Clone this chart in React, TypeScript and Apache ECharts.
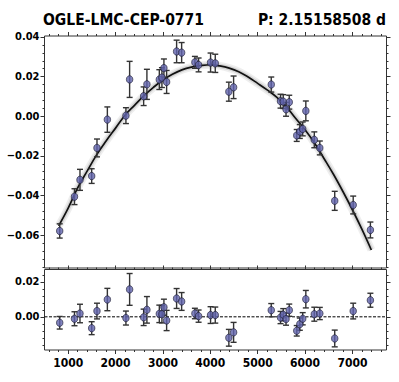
import React, { useEffect, useRef } from "react";
import * as echarts from "echarts";

const TITLE_LEFT = "OGLE-LMC-CEP-0771";
const TITLE_RIGHT = "P: 2.15158508 d";

const OBS_X = [821, 1133, 1249, 1496, 1608, 1827, 2219, 2297, 2593, 2662, 2924, 2979, 3021, 3078, 3289, 3395, 3675, 3753, 4006, 4105, 4392, 4492, 5287, 5483, 5540, 5599, 5667, 5825, 5890, 5951, 6017, 6196, 6312, 6627, 7017, 7380];
const OBS_Y = [-0.0579, -0.0406, -0.0321, -0.0302, -0.016, -0.0017, 0.0003, 0.0186, 0.0101, 0.0161, 0.0185, 0.0195, 0.0243, 0.0173, 0.0327, 0.0321, 0.0272, 0.0259, 0.0271, 0.0267, 0.0124, 0.0146, 0.016, 0.0076, 0.0074, 0.0035, 0.0071, -0.0097, -0.0077, -0.0064, 0.0027, -0.0119, -0.016, -0.0427, -0.0448, -0.0574];
const RES_Y = [-0.0034, -0.0011, 0.0019, -0.0065, 0.0033, 0.0099, -0.0007, 0.0157, -0.0003, 0.004, 0.0017, 0.0015, 0.0055, -0.0021, 0.0105, 0.0088, 0.0019, 0.0004, 0.001, 0.001, -0.012, -0.0089, 0.0038, -0.0004, 0.0012, -0.0013, 0.0038, -0.008, -0.0042, -0.0011, 0.0101, 0.0015, 0.0019, -0.0124, 0.0033, 0.0095];
const ERR = [0.0036, 0.004, 0.0053, 0.0037, 0.0045, 0.0064, 0.004, 0.0091, 0.0047, 0.0076, 0.005, 0.005, 0.0046, 0.0058, 0.0057, 0.0051, 0.003, 0.0035, 0.0048, 0.0046, 0.0048, 0.0057, 0.0038, 0.0035, 0.0035, 0.0035, 0.0035, 0.003, 0.0035, 0.0035, 0.005, 0.004, 0.0035, 0.0048, 0.0045, 0.004];

const CURVE_X = [800, 1000, 1200, 1400, 1600, 1800, 2000, 2200, 2400, 2600, 2800, 3000, 3200, 3400, 3600, 3800, 4000, 4200, 4400, 4600, 4800, 5000, 5200, 5400, 5600, 5800, 6000, 6200, 6400, 6600, 6800, 7000, 7200, 7400];
const CURVE_Y = [-0.0553, -0.0464, -0.0362, -0.0277, -0.0195, -0.0125, -0.006, 0.0005, 0.0055, 0.0104, 0.0146, 0.0183, 0.0212, 0.0234, 0.0248, 0.0256, 0.026, 0.0254, 0.0243, 0.0225, 0.0198, 0.0166, 0.0133, 0.0097, 0.005, -0.001, -0.0068, -0.0135, -0.0213, -0.0293, -0.038, -0.0472, -0.057, -0.0675];

const X_MAJOR = [1000, 2000, 3000, 4000, 5000, 6000, 7000];
const TOP_Y_MAJOR = [-0.06, -0.04, -0.02, 0.0, 0.02, 0.04];
const BOT_Y_MAJOR = [0.0, 0.02];

const X_MIN = 500, X_MAX = 7720;
const TOP_MIN = -0.0766, TOP_MAX = 0.0405;
const BOT_MIN = -0.019, BOT_MAX = 0.0271;

const FONT = "'DejaVu Sans Condensed', 'DejaVu Sans', sans-serif";

function steps(a: number, b: number, s: number) {
  const out: number[] = [];
  const n = Math.round((b - a) / s);
  for (let i = 0; i <= n; i++) out.push(+(a + i * s).toFixed(6));
  return out;
}
const X_MINOR = steps(600, 7600, 200);
const TOP_Y_MINOR = steps(-0.076, 0.040, 0.004);
const BOT_Y_MINOR = steps(-0.016, 0.024, 0.004);

const fmtY = (v: number) => {
  const s = Math.abs(v).toFixed(2);
  return v < -1e-9 ? "\u2212" + s : s;
};

const labelStyle = { fontFamily: FONT, fontWeight: "bold" as const, fontSize: 11, color: "#000" };

function xAxis(grid: number, pos: "top" | "bottom", ticks: number[], len: number, labels: boolean) {
  return {
    type: "value", gridIndex: grid, position: pos, min: X_MIN, max: X_MAX,
    axisLine: { show: false, onZero: false },
    axisTick: { show: true, inside: false, length: len, customValues: ticks, lineStyle: { color: "#333", width: 1 } },
    axisLabel: labels ? { show: true, customValues: X_MAJOR, formatter: (v: number) => String(v), margin: 7, ...labelStyle, fontSize: 12 } : { show: false },
    splitLine: { show: false },
  };
}
function yAxis(grid: number, pos: "left" | "right", min: number, max: number, ticks: number[], len: number, labels: number[] | null) {
  return {
    type: "value", gridIndex: grid, position: pos, min, max,
    axisLine: { show: false, onZero: false },
    axisTick: { show: true, inside: false, length: len, customValues: ticks, lineStyle: { color: "#333", width: 1 } },
    axisLabel: labels ? { show: true, customValues: labels, formatter: fmtY, margin: 5, ...labelStyle } : { show: false },
    splitLine: { show: false },
  };
}

function errRender(params: any, api: any) {
  const x = api.value(0), y = api.value(1), e = api.value(2);
  const t = api.coord([x, y + e]);
  const b = api.coord([x, y - e]);
  const h = 3;
  const st = { stroke: "#333", lineWidth: 1.4 };
  return {
    type: "group",
    children: [
      { type: "line", shape: { x1: t[0], y1: t[1], x2: b[0], y2: b[1] }, style: st },
      { type: "line", shape: { x1: t[0] - h, y1: t[1], x2: t[0] + h, y2: t[1] }, style: st },
      { type: "line", shape: { x1: b[0] - h, y1: b[1], x2: b[0] + h, y2: b[1] }, style: st },
    ],
  };
}

export default function App() {
  const ref = useRef<HTMLDivElement>(null);
  useEffect(() => {
    if (!ref.current) return;
    const chart = echarts.init(ref.current, null, { renderer: "svg" });
    const curve = CURVE_X.map((x, i) => [x, CURVE_Y[i]]);
    const obs = OBS_X.map((x, i) => [x, OBS_Y[i], ERR[i]]);
    const res = OBS_X.map((x, i) => [x, RES_Y[i], ERR[i]]);
    const marker = { color: "#6063ac", borderColor: "#1c1c30", borderWidth: 0.8 };
    chart.setOption({
      animation: false,
      backgroundColor: "#fff",
      grid: [
        { left: 44.5, top: 36, width: 342, height: 232, show: true, borderColor: "#333", borderWidth: 1, backgroundColor: "transparent" },
        { left: 44.5, top: 269.5, width: 342, height: 80.5, show: true, borderColor: "#333", borderWidth: 1, backgroundColor: "transparent" },
      ],
      xAxis: [
        xAxis(0, "bottom", [], 0, false),
        xAxis(0, "top", X_MAJOR, 4, false),
        xAxis(0, "top", X_MINOR, 2, false),
        xAxis(1, "bottom", X_MAJOR, 4, true),
        xAxis(1, "bottom", X_MINOR, 2, false),
        xAxis(1, "top", X_MAJOR, 4, false),
        xAxis(1, "top", X_MINOR, 2, false),
      ],
      yAxis: [
        yAxis(0, "left", TOP_MIN, TOP_MAX, TOP_Y_MAJOR, 4, TOP_Y_MAJOR),
        yAxis(0, "left", TOP_MIN, TOP_MAX, TOP_Y_MINOR, 2, null),
        yAxis(0, "right", TOP_MIN, TOP_MAX, TOP_Y_MAJOR, 4, null),
        yAxis(0, "right", TOP_MIN, TOP_MAX, TOP_Y_MINOR, 2, null),
        yAxis(1, "left", BOT_MIN, BOT_MAX, BOT_Y_MAJOR, 4, BOT_Y_MAJOR),
        yAxis(1, "left", BOT_MIN, BOT_MAX, BOT_Y_MINOR, 2, null),
        yAxis(1, "right", BOT_MIN, BOT_MAX, BOT_Y_MAJOR, 4, null),
        yAxis(1, "right", BOT_MIN, BOT_MAX, BOT_Y_MINOR, 2, null),
      ],
      series: [
        { type: "line", xAxisIndex: 0, yAxisIndex: 0, data: curve, smooth: 0.4, showSymbol: false, lineStyle: { color: "rgba(140,140,140,0.15)", width: 8 }, z: 1 },
        { type: "line", xAxisIndex: 0, yAxisIndex: 0, data: curve, smooth: 0.4, showSymbol: false, lineStyle: { color: "rgba(120,120,120,0.22)", width: 4.5 }, z: 1 },
        { type: "line", xAxisIndex: 0, yAxisIndex: 0, data: curve, smooth: 0.4, showSymbol: false, lineStyle: { color: "#111", width: 1.7 }, z: 2 },
        { type: "custom", xAxisIndex: 0, yAxisIndex: 0, data: obs, renderItem: errRender, z: 3 },
        { type: "scatter", xAxisIndex: 0, yAxisIndex: 0, data: obs, symbol: "circle", symbolSize: [6.5, 7.5], itemStyle: marker, z: 4 },
        {
          type: "line", xAxisIndex: 3, yAxisIndex: 4, data: [[X_MIN, 0], [X_MAX, 0]], showSymbol: false,
          lineStyle: { color: "#000", width: 1, type: [3, 1.5] }, z: 1,
        },
        { type: "custom", xAxisIndex: 3, yAxisIndex: 4, data: res, renderItem: errRender, z: 3 },
        { type: "scatter", xAxisIndex: 3, yAxisIndex: 4, data: res, symbol: "circle", symbolSize: [6.5, 7.5], itemStyle: marker, z: 4 },
      ],
      graphic: [
        { type: "text", left: 43, top: 12, style: { text: TITLE_LEFT, fontFamily: FONT, fontWeight: "bold", fontSize: 15.5, fill: "#000" } },
        { type: "text", right: 13, top: 12, style: { text: TITLE_RIGHT, fontFamily: FONT, fontWeight: "bold", fontSize: 15.5, fill: "#000" } },
      ],
    });
    return () => chart.dispose();
  }, []);
  return <div ref={ref} style={{ width: 399, height: 382, position: "absolute", left: 0, top: 0 }} />;
}
